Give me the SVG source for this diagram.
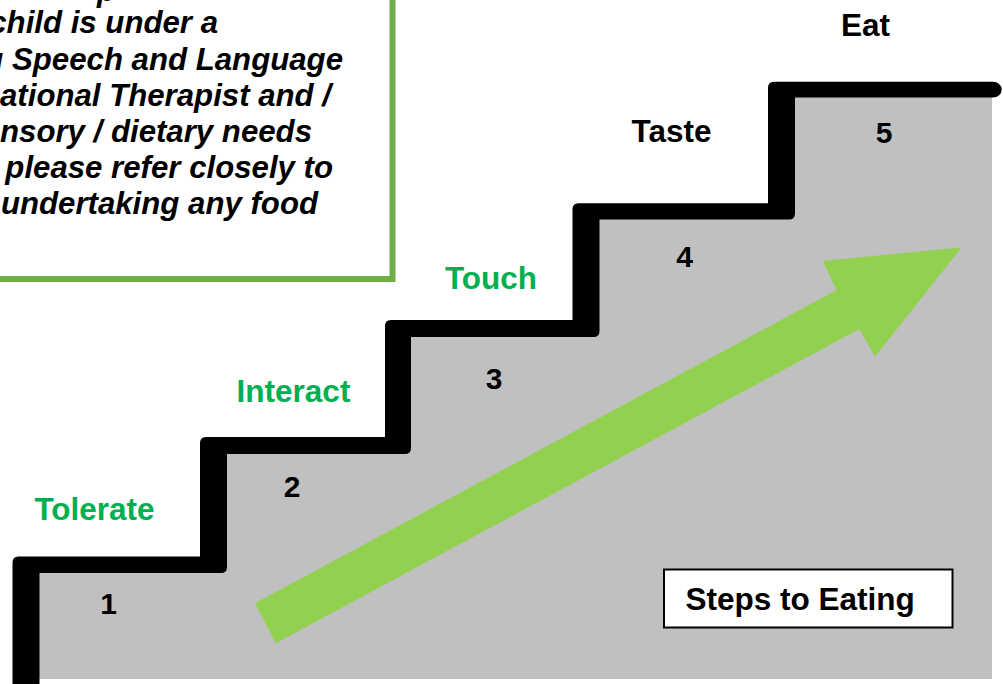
<svg xmlns="http://www.w3.org/2000/svg" width="1003" height="684" viewBox="0 0 1003 684">
  <style>
    .note { font-family: "Liberation Sans", Arial, sans-serif; font-weight: bold; font-style: italic; font-size: 31.2px; fill: #000; text-anchor: end; }
    .step { font-family: "Liberation Sans", Arial, sans-serif; font-weight: bold; font-size: 31.5px; text-anchor: middle; }
    .green { fill: #00b050; }
    .black { fill: #000; }
    .num { font-family: "Liberation Sans", Arial, sans-serif; font-weight: bold; font-size: 30px; text-anchor: middle; fill: #000; }
  </style>
  <rect width="1003" height="684" fill="#ffffff"/>

  <!-- advice note box, cropped at the top-left edge -->
  <g id="note">
    <rect x="-20" y="-20" width="412.5" height="299" fill="#ffffff" stroke="#70ad47" stroke-width="6"/>
    <text class="note" x="116" y="1">p</text>
    <text class="note" x="218" y="33">child is under a</text>
    <text class="note" x="343" y="69.5">g Speech and Language</text>
    <text class="note" x="331" y="105.5">ational Therapist and /</text>
    <text class="note" x="312" y="141.5">nsory / dietary needs</text>
    <text class="note" x="333" y="177.5">please refer closely to</text>
    <text class="note" x="318" y="213.5">undertaking any food</text>
  </g>

  <!-- staircase: grey body and black outline -->
  <g id="stairs">
    <path d="M26,679 V565 H213 V446 H398 V329 H586 V211 H782 V90 H992 V679 Z" fill="#c0c0c0"/>
    <path d="M12.5,684 V562.5 Q12.5,556.5 18.5,556.5 H200 V443 Q200,437 206,437 H385 V326 Q385,320 391,320 H572.5 V209.3 Q572.5,203.3 578.5,203.3 H768 V87.7 Q768,81.7 774,81.7 H993 A8.7,7.9 0 0 1 993,97.5 H795 V213.5 Q795,219.5 789,219.5 H599.5 V331 Q599.5,337 593.5,337 H411 V448 Q411,454 405,454 H227 V567 Q227,573 221,573 H39.5 V684 Z" fill="#000000"/>
  </g>

  <!-- rising arrow -->
  <g id="connectors">
    <polygon points="255,603.3 836.7,290 822.7,261 961.7,247.3 875,356.7 859.3,329 275.7,643.3" fill="#92d050"/>
  </g>

  <g id="step1">
    <text class="step green" x="94.5" y="520">Tolerate</text>
    <text class="num" x="108.5" y="613.5">1</text>
  </g>
  <g id="step2">
    <text class="step green" x="293.5" y="402">Interact</text>
    <text class="num" x="292" y="497">2</text>
  </g>
  <g id="step3">
    <text class="step green" x="491" y="289">Touch</text>
    <text class="num" x="494" y="389">3</text>
  </g>
  <g id="step4">
    <text class="step black" x="671.5" y="142">Taste</text>
    <text class="num" x="684.5" y="266.5">4</text>
  </g>
  <g id="step5">
    <text class="step black" x="865.5" y="36">Eat</text>
    <text class="num" x="884" y="143">5</text>
  </g>

  <g id="title">
    <rect x="664" y="569.5" width="288.5" height="58" fill="#ffffff" stroke="#000000" stroke-width="2"/>
    <text class="step black" x="685.5" y="610" style="text-anchor:start">Steps to Eating</text>
  </g>
</svg>
